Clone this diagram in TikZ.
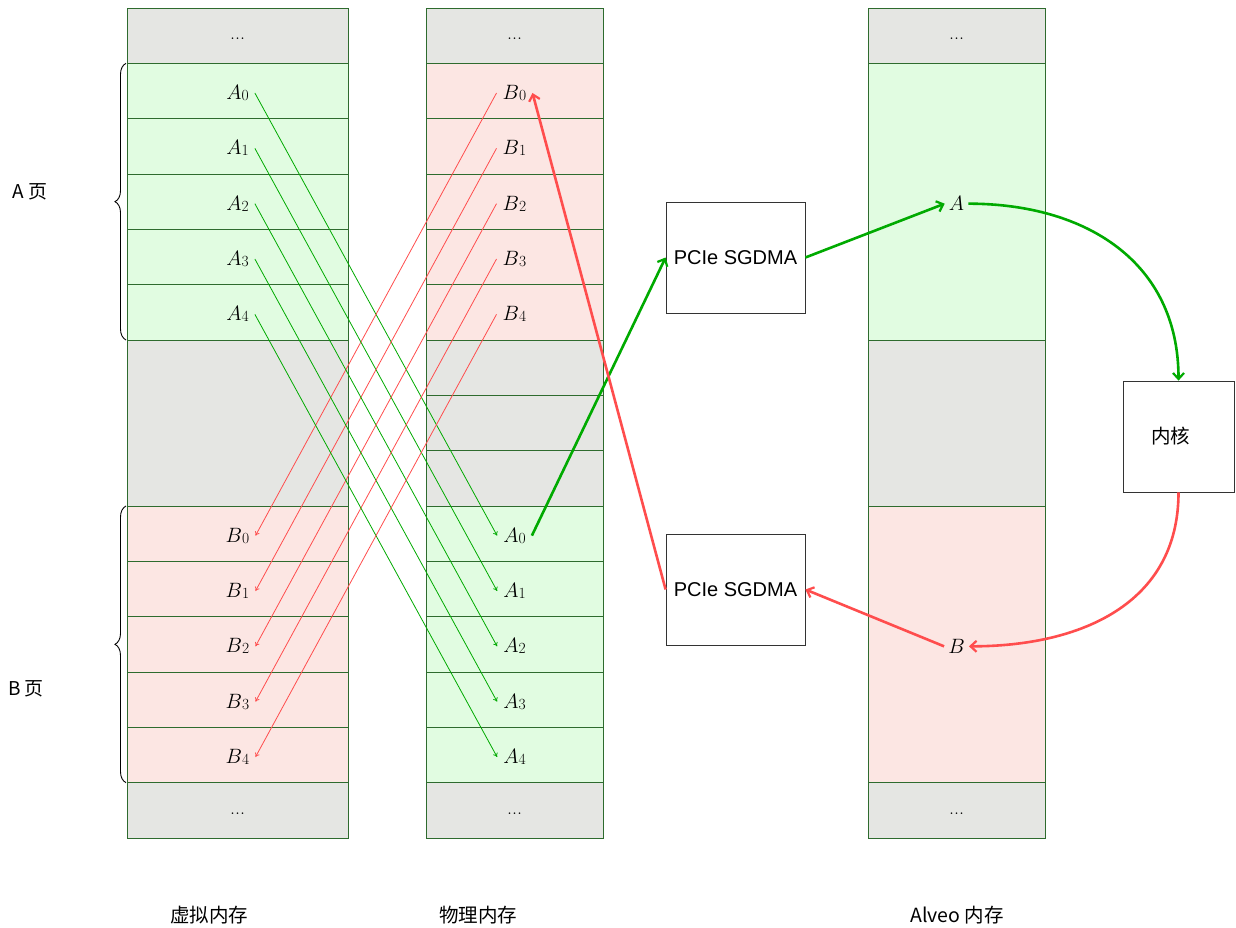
\documentclass[tikz,border=0pt]{standalone}
\usepackage{fontspec}
\setsansfont{Liberation Sans}
\newfontfamily\cjk{Noto Sans CJK SC}
\usetikzlibrary{arrows.meta,decorations.pathreplacing,calc}
\definecolor{gfill}{HTML}{E1FCE1}
\definecolor{rfill}{HTML}{FCE6E3}
\definecolor{grayfill}{HTML}{E5E6E3}
\definecolor{bord}{HTML}{2E6B2E}
\definecolor{garrow}{HTML}{00AA00}
\definecolor{rarrow}{HTML}{FF4D4D}
\def\rh{55.333}
\newcommand\memlab[2]{$#1$\raisebox{-1pt}{\fontsize{15.5}{18}\selectfont #2}}
\begin{document}
\begin{tikzpicture}[x=1pt,y=-1pt,
  cell/.style={draw=bord,line width=0.9pt},
  lab/.style={inner xsep=6pt,inner ysep=2pt,font=\fontsize{21}{24}\selectfont},
  dots/.style={font=\fontsize{20}{24}\selectfont},
  thinar/.style={line width=0.8pt,-{To[length=4pt,width=5pt]}},
  thickar/.style={line width=2.6pt,-{Straight Barb[length=6pt,width=11pt,line width=2.2pt]}},
  box/.style={draw=black!80,line width=0.8pt,fill=white,minimum width=139pt,minimum height=111pt,font=\sffamily\fontsize{20}{24}\selectfont},
  captext/.style={font=\cjk\fontsize{19.5}{22}\selectfont},
  pagelab/.style={font=\cjk\fontsize{19}{22}\selectfont},
  brc/.style={decorate,decoration={brace,amplitude=11pt},line width=0.9pt}]
\useasboundingbox (0,0) rectangle (1236,928);
% virtual memory column
\path[cell,fill=grayfill] (127,{8+0*\rh}) rectangle (348,{8+1*\rh});
\foreach \k in {1,...,5}{\path[cell,fill=gfill] (127,{8+\k*\rh}) rectangle (348,{8+(\k+1)*\rh});}
\path[cell,fill=grayfill] (127,{8+6*\rh}) rectangle (348,{8+9*\rh});
\foreach \k in {9,...,13}{\path[cell,fill=rfill] (127,{8+\k*\rh}) rectangle (348,{8+(\k+1)*\rh});}
\path[cell,fill=grayfill] (127,{8+14*\rh}) rectangle (348,{8+15*\rh});
% physical memory column
\path[cell,fill=grayfill] (426,{8+0*\rh}) rectangle (603,{8+1*\rh});
\foreach \k in {1,...,5}{\path[cell,fill=rfill] (426,{8+\k*\rh}) rectangle (603,{8+(\k+1)*\rh});}
\foreach \k in {6,7,8}{\path[cell,fill=grayfill] (426,{8+\k*\rh}) rectangle (603,{8+(\k+1)*\rh});}
\foreach \k in {9,...,13}{\path[cell,fill=gfill] (426,{8+\k*\rh}) rectangle (603,{8+(\k+1)*\rh});}
\path[cell,fill=grayfill] (426,{8+14*\rh}) rectangle (603,{8+15*\rh});
% Alveo memory column
\path[cell,fill=grayfill] (868,{8+0*\rh}) rectangle (1045,{8+1*\rh});
\path[cell,fill=gfill] (868,{8+1*\rh}) rectangle (1045,{8+6*\rh});
\path[cell,fill=grayfill] (868,{8+6*\rh}) rectangle (1045,{8+9*\rh});
\path[cell,fill=rfill] (868,{8+9*\rh}) rectangle (1045,{8+14*\rh});
\path[cell,fill=grayfill] (868,{8+14*\rh}) rectangle (1045,{8+15*\rh});
% dots
\node[dots] (vtop) at (237.5,{8+0.56*\rh}) {...};
\node[dots] (vbot) at (237.5,{8+14.56*\rh}) {...};
\node[dots] (ptop) at (514.5,{8+0.56*\rh}) {...};
\node[dots] (pbot) at (514.5,{8+14.56*\rh}) {...};
\node[dots] (atop) at (956.5,{8+0.56*\rh}) {...};
\node[dots] (abot) at (956.5,{8+14.56*\rh}) {...};
% labels
\foreach \i in {0,...,4}{
  \node[lab] (vA\i) at (237.5,{10+(\i+1.5)*\rh}) {\memlab{A}{\i}};
  \node[lab] (vB\i) at (237.5,{10+(\i+9.5)*\rh}) {\memlab{B}{\i}};
  \node[lab] (pB\i) at (514.5,{10+(\i+1.5)*\rh}) {\memlab{B}{\i}};
  \node[lab] (pA\i) at (514.5,{10+(\i+9.5)*\rh}) {\memlab{A}{\i}};
}
\node[lab,inner xsep=4pt] (aA) at (956.5,{10+3.5*\rh}) {$A$};
\node[lab,inner xsep=4pt] (aB) at (956.5,{10+11.5*\rh}) {$B$};
% thin arrows
\foreach \i in {0,...,4}{
  \draw[thinar,garrow] (vA\i.east) -- (pA\i.west);
  \draw[thinar,rarrow] (pB\i.west) -- (vB\i.east);
}
% boxes
\node[box] (dma1) at (735.5,257.5) {PCIe SGDMA};
\node[box] (dma2) at (735.5,589.5) {PCIe SGDMA};
\node[box,minimum width=111pt,font=\cjk\fontsize{19.5}{22}\selectfont] (kern) at (1178.5,436.5) {\hspace*{-16pt}内核};
% thick arrows
\draw[thickar,garrow] (pA0.east) -- (dma1.west);
\draw[thickar,garrow] (dma1.east) -- (aA.west);
\draw[thickar,garrow] (aA.east) to[out=0,in=90,looseness=1.1] (kern.north);
\draw[thickar,rarrow] (kern.south) to[out=-90,in=0,looseness=1.1] (aB.east);
\draw[thickar,rarrow] (aB.west) -- (dma2.east);
\draw[thickar,rarrow] (dma2.west) -- (pB0.east);
% braces
\draw[brc] (126,{8+6*\rh}) -- (126,{8+1*\rh});
\draw[brc] (126,{8+14*\rh}) -- (126,{8+9*\rh});
\node[pagelab] (pa) at (30,192) {A 页};
\node[pagelab] (pb) at (26,689) {B 页};
% captions
\node[captext] (c1) at (209,915) {虚拟内存};
\node[captext] (c2) at (478,915) {物理内存};
\node[captext] (c3) at (957,915) {Alveo 内存};
\end{tikzpicture}
\end{document}
